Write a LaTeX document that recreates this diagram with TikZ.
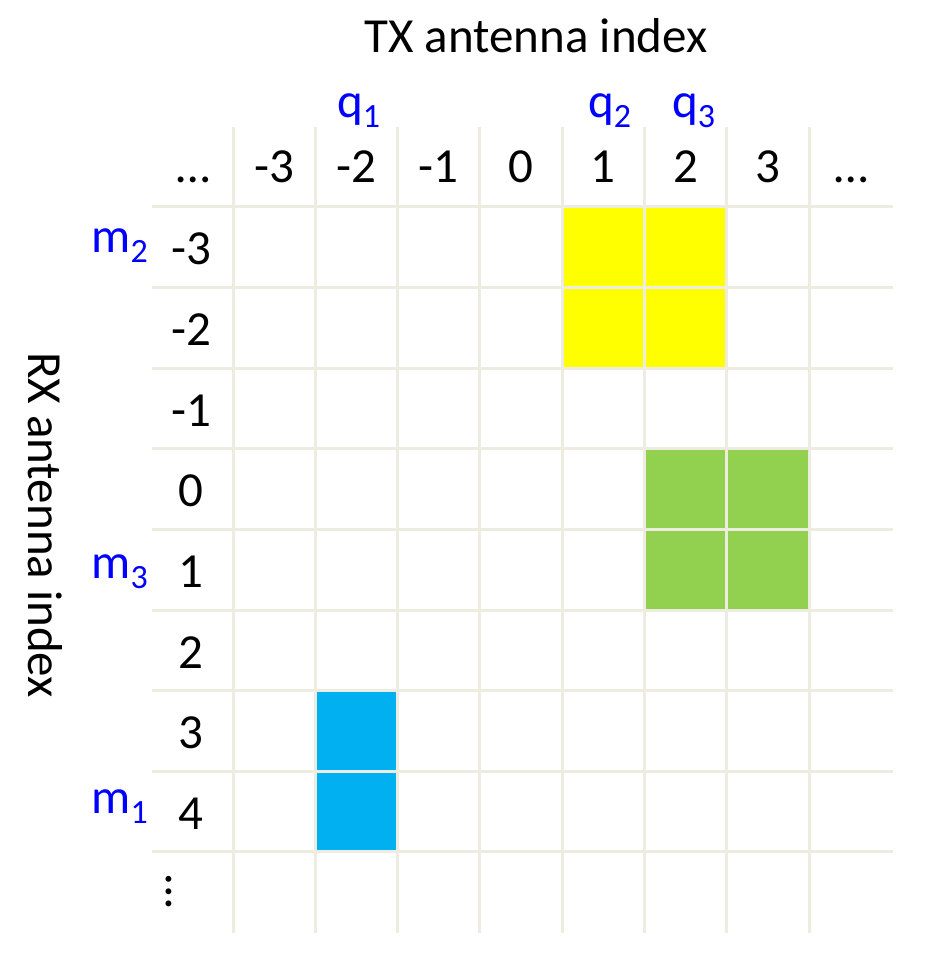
\documentclass[tikz,border=0pt]{standalone}
\usepackage{fontspec}
\setmainfont{Carlito}
\definecolor{gridc}{HTML}{EEECE1}
\definecolor{yel}{HTML}{FFFF00}
\definecolor{grn}{HTML}{92D050}
\definecolor{cyb}{HTML}{00B0F0}
\definecolor{labelblue}{HTML}{0000FF}
\newcommand{\sbs}[1]{\raisebox{-10pt}{\fontsize{34}{34}\selectfont #1}}
\begin{document}
\begin{tikzpicture}[x=1pt,y=-1pt,
  lbl/.style={font=\fontsize{49}{58}\selectfont, inner sep=0pt, anchor=base},
  blu/.style={lbl, text=labelblue},
  gridline/.style={draw=gridc, line width=3pt}]
\useasboundingbox (0,0) rectangle (927,957);
% coloured cells
\fill[yel] (562.2,207) rectangle (726.8,368.2);
\fill[grn] (644.5,448.8) rectangle (809.1,610);
\fill[cyb] (315.3,690.6) rectangle (397.6,851.8);
% grid
\foreach \i in {0,...,7}
  \draw[gridline] ({233+82.3*\i},127) -- ({233+82.3*\i},933);
\foreach \j in {0,...,8}
  \draw[gridline] (152,{207+80.6*\j}) -- (893,{207+80.6*\j});
% column headers
\foreach \v [count=\i from 0] in {-3,-2,-1,0,1,2,3}
  \node[lbl] (c\i) at ({274.15+82.3*\i},183) {\v};
\node[lbl] (cl) at (193,183) {…};
\node[lbl] (cr) at (851,183) {…};
% row headers
\foreach \v [count=\j from 0] in {-3,-2,-1,0,1,2,3,4}
  \node[lbl] (r\j) at (191,{265+80.6*\j}) {\v};
\node[lbl, rotate=90, anchor=center] (rv) at (169,892) {…};
% blue labels
\node[blu, anchor=base west] (q1) at (337,118) {q\sbs{1}};
\node[blu, anchor=base west] (q2) at (588,118) {q\sbs{2}};
\node[blu, anchor=base west] (q3) at (672,118) {q\sbs{3}};
\node[blu, anchor=base east] (m2) at (148,253) {m\sbs{2}};
\node[blu, anchor=base east] (m3) at (148,578) {m\sbs{3}};
\node[blu, anchor=base east] (m1) at (148,813) {m\sbs{1}};
% axis titles
\node[lbl] (tx) at (536,53) {TX antenna index};
\node[lbl, rotate=-90] (rx) at (28,525) {RX antenna index};
\end{tikzpicture}
\end{document}
